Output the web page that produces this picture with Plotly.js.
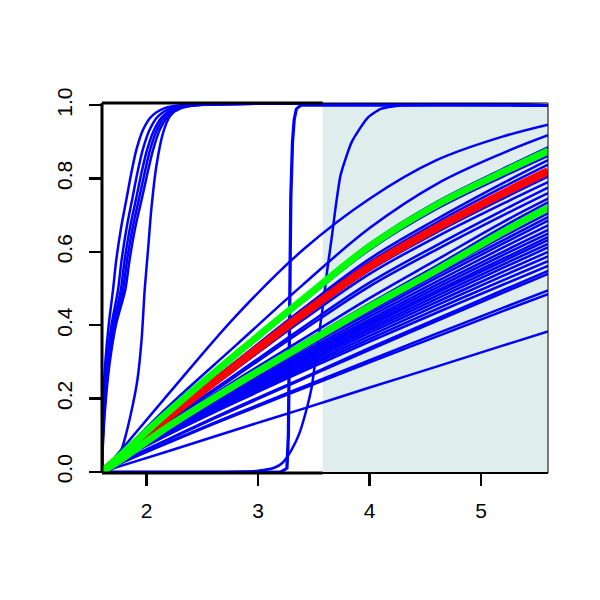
<!DOCTYPE html>
<html>
<head>
<meta charset="utf-8">
<script src="https://cdn.plot.ly/plotly-3.0.1.min.js"></script>
<style>html,body{margin:0;padding:0;background:#fff;}#chart{width:600px;height:600px;}</style>
</head>
<body>
<div id="chart"></div>
<script>
// ---- data ----
const xGrid = [1.6, 1.8, 2.2, 2.8, 3.4, 4.0, 4.6, 5.2, 5.6];

// fan of blue curves (values at xGrid)
const fanCurves = [
  [0,0.056,0.167,0.324,0.475,0.622,0.736,0.827,0.885],
  [0,0.054,0.163,0.316,0.463,0.606,0.717,0.806,0.862],
  [0,0.052,0.156,0.301,0.445,0.581,0.689,0.788,0.850],
  [0,0.051,0.153,0.297,0.439,0.572,0.680,0.777,0.838],
  [0,0.049,0.147,0.285,0.422,0.550,0.653,0.746,0.805],
  [0,0.048,0.145,0.280,0.414,0.540,0.641,0.732,0.790],
  [0,0.046,0.139,0.266,0.394,0.516,0.618,0.714,0.775],
  [0,0.045,0.136,0.261,0.386,0.506,0.606,0.700,0.760],
  [0,0.043,0.131,0.250,0.362,0.474,0.578,0.682,0.745],
  [0,0.041,0.128,0.243,0.352,0.459,0.562,0.669,0.735],
  [0,0.048,0.128,0.238,0.343,0.445,0.544,0.642,0.705],
  [0,0.047,0.126,0.235,0.338,0.439,0.537,0.632,0.695],
  [0,0.046,0.124,0.232,0.334,0.432,0.529,0.623,0.685],
  [0,0.045,0.122,0.227,0.327,0.424,0.519,0.612,0.672],
  [0,0.045,0.119,0.223,0.321,0.416,0.510,0.601,0.660],
  [0,0.044,0.118,0.220,0.317,0.410,0.502,0.592,0.650],
  [0,0.043,0.116,0.216,0.312,0.404,0.494,0.582,0.640],
  [0,0.043,0.114,0.214,0.308,0.399,0.488,0.575,0.632],
  [0,0.042,0.113,0.210,0.303,0.392,0.480,0.566,0.622],
  [0,0.041,0.111,0.207,0.298,0.386,0.472,0.557,0.612],
  [0,0.041,0.109,0.203,0.292,0.379,0.463,0.546,0.600],
  [0,0.040,0.106,0.199,0.286,0.371,0.454,0.535,0.588],
  [0,0.039,0.104,0.194,0.280,0.363,0.444,0.523,0.575],
  [0,0.038,0.102,0.190,0.274,0.355,0.434,0.511,0.562],
  [0,0.032,0.090,0.175,0.256,0.338,0.417,0.496,0.548],
  [0,0.031,0.089,0.172,0.253,0.333,0.411,0.489,0.540],
  [0,0.029,0.082,0.158,0.232,0.305,0.377,0.448,0.495],
  [0,0.028,0.080,0.155,0.227,0.299,0.369,0.439,0.485],
  [0,0.019,0.057,0.115,0.172,0.230,0.287,0.345,0.383],
  // two steeper curves at the top of the fan
  [0,0.070,0.214,0.425,0.605,0.745,0.850,0.915,0.947],
  [0,0.060,0.180,0.345,0.510,0.665,0.785,0.870,0.918]
];

const redMean    = [0,0.050,0.150,0.290,0.430,0.560,0.665,0.760,0.820];
const greenUpper = [0,0.055,0.165,0.320,0.470,0.615,0.728,0.818,0.875];
const greenLower = [0,0.040,0.125,0.238,0.345,0.450,0.550,0.655,0.720];

// steep S-shaped blue curves on the left
const sLevels = [0, 0.1, 0.2, 0.3, 0.4, 0.497, 0.578, 0.669, 0.742, 0.815, 0.878, 0.933, 0.969, 0.992, 1, 1];
const sX1 = [1.6, 1.603, 1.612, 1.630, 1.660, 1.699, 1.728, 1.773, 1.818, 1.863, 1.908, 1.968, 2.042, 2.162, 2.31, 5.6];
const sX2 = [1.6, 1.606, 1.620, 1.645, 1.685, 1.744, 1.776, 1.823, 1.870, 1.917, 1.965, 2.027, 2.100, 2.220, 2.37, 5.6];
const sX3 = [1.6, 1.608, 1.626, 1.655, 1.700, 1.769, 1.803, 1.853, 1.904, 1.954, 2.004, 2.068, 2.142, 2.262, 2.41, 5.6];
const sX4 = [1.6, 1.610, 1.630, 1.662, 1.712, 1.789, 1.825, 1.877, 1.930, 1.982, 2.031, 2.093, 2.167, 2.287, 2.43, 5.6];
const sX5 = [1.6, 1.612, 1.635, 1.670, 1.724, 1.809, 1.847, 1.900, 1.955, 2.008, 2.058, 2.118, 2.192, 2.310, 2.45, 5.6];
const s6X = [1.6, 1.70, 1.75, 1.795, 1.86, 1.917, 1.955, 1.983, 2.013, 2.042, 2.087, 2.147, 2.207, 2.282, 2.40, 5.6];
const s6Y = [0, 0.01, 0.04, 0.08, 0.16, 0.25, 0.36, 0.497, 0.606, 0.715, 0.833, 0.924, 0.969, 0.992, 1, 1];

// near-vertical curves around x = 3.3
const aX1 = [1.6, 3.20, 3.255, 3.268, 3.275, 3.28, 3.29, 3.305, 3.32, 3.34, 3.38, 5.6];
const aX2 = [1.6, 3.21, 3.262, 3.275, 3.282, 3.287, 3.297, 3.312, 3.327, 3.347, 3.39, 5.6];
const aY  = [0, 0, 0.01, 0.1, 0.3, 0.5, 0.75, 0.9, 0.96, 0.99, 1, 1];
const bX = [1.6, 2.70, 3.00, 3.15, 3.22, 3.30, 3.37, 3.44, 3.48, 3.53, 3.58, 3.62, 3.665, 3.69, 3.74, 3.84, 3.98, 4.10, 4.30, 5.6];
const bY = [0, 0, 0.003, 0.012, 0.025, 0.06, 0.105, 0.177, 0.23, 0.34, 0.45, 0.55, 0.65, 0.71, 0.81, 0.90, 0.965, 0.99, 1, 1];

// shaded region and axes
const shadeFrom = 3.58;
const xRange = [1.6, 5.6];
const yRange = [-0.003, 1.006];
const xTicks = [2, 3, 4, 5];
const yTicks = [0, 0.2, 0.4, 0.6, 0.8, 1.0];
const yTickText = ['0.0', '0.2', '0.4', '0.6', '0.8', '1.0'];

// ---- build traces ----
const BLUE = '#0000FF';
const BW = 2.5;
const traces = [];
fanCurves.forEach(v => traces.push({x: xGrid, y: v, mode: 'lines', line: {color: BLUE, width: BW, shape: 'spline', smoothing: 1}}));
[sX1, sX2, sX3, sX4, sX5].forEach(sx => traces.push({x: sx, y: sLevels, mode: 'lines', line: {color: BLUE, width: BW, shape: 'spline', smoothing: 0.8}}));
traces.push({x: s6X, y: s6Y, mode: 'lines', line: {color: BLUE, width: BW, shape: 'spline', smoothing: 0.8}});
traces.push({x: aX1, y: aY, mode: 'lines', line: {color: BLUE, width: BW}});
traces.push({x: aX2, y: aY, mode: 'lines', line: {color: BLUE, width: BW}});
traces.push({x: bX, y: bY, mode: 'lines', line: {color: BLUE, width: BW, shape: 'spline', smoothing: 0.5}});
traces.push({x: xGrid, y: redMean, mode: 'lines', line: {color: '#FF0000', width: 8, shape: 'spline', smoothing: 1}});
traces.push({x: xGrid, y: greenUpper, mode: 'lines', line: {color: '#00FF00', width: 7, shape: 'spline', smoothing: 1}});
traces.push({x: xGrid, y: greenLower, mode: 'lines', line: {color: '#00FF00', width: 7, shape: 'spline', smoothing: 1}});

const FONT = {family: 'Liberation Sans, Arial, Helvetica, sans-serif', size: 21, color: '#000'};

const layout = {
  width: 600, height: 600,
  margin: {l: 102, r: 52, t: 103, b: 127},
  paper_bgcolor: '#fff', plot_bgcolor: '#fff',
  showlegend: false,
  font: FONT,
  xaxis: {
    range: xRange, tickvals: xTicks, ticks: 'outside', ticklen: 12, tickwidth: 2.5, tickcolor: '#000',
    showgrid: false, zeroline: false, showline: false, tickfont: FONT, ticklabelstandoff: 7
  },
  yaxis: {
    range: yRange, tickvals: yTicks, ticktext: yTickText, ticks: 'outside', ticklen: 12, tickwidth: 2.5,
    tickcolor: '#000', tickangle: -90, showgrid: false, zeroline: false, showline: false, tickfont: FONT,
    ticklabelstandoff: 9
  },
  shapes: [
    {type: 'rect', xref: 'x', yref: 'y', x0: shadeFrom, x1: xRange[1], y0: yRange[0], y1: 1,
     fillcolor: '#E0EDED', line: {width: 0}, layer: 'below'},
    {type: 'rect', xref: 'paper', yref: 'paper', x0: 0, x1: 1, y0: 0, y1: 1,
     line: {color: '#000', width: 1}, fillcolor: 'rgba(0,0,0,0)', layer: 'above'},
    {type: 'line', xref: 'paper', yref: 'paper', x0: 0, x1: 0, y0: 0, y1: 1,
     line: {color: '#000', width: 3}, layer: 'above'},
    {type: 'line', xref: 'x', yref: 'paper', x0: xRange[0], x1: shadeFrom, y0: 1, y1: 1,
     line: {color: '#000', width: 3}, layer: 'above'},
    {type: 'line', xref: 'x', yref: 'paper', x0: xRange[0], x1: shadeFrom, y0: 0, y1: 0,
     line: {color: '#000', width: 3}, layer: 'above'},
    {type: 'line', xref: 'x', yref: 'paper', x0: shadeFrom, x1: xRange[1], y0: 0, y1: 0,
     line: {color: '#000', width: 2}, layer: 'above'}
  ]
};

Plotly.newPlot('chart', traces, layout, {staticPlot: true, displayModeBar: false});
</script>
</body>
</html>
